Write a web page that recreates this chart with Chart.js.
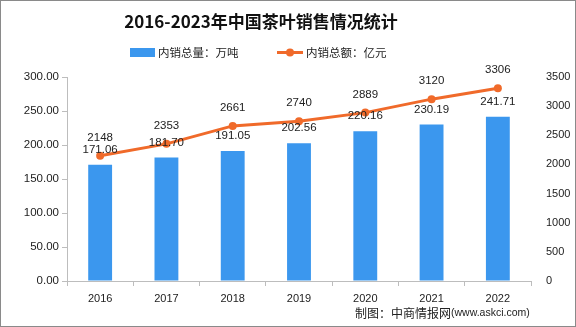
<!DOCTYPE html>
<html>
<head>
<meta charset="utf-8">
<script src="https://cdn.jsdelivr.net/npm/chart.js@4/dist/chart.umd.min.js"></script>
<style>
  html, body { margin: 0; padding: 0; background: #fff; }
  #wrap { width: 576px; height: 327px; position: relative; }
</style>
</head>
<body>
<div id="wrap"><canvas id="tea-chart" width="576" height="327"></canvas></div>
<script>
const years = ['2016', '2017', '2018', '2019', '2020', '2021', '2022'];
const salesVolume = [171.06, 181.70, 191.05, 202.56, 220.16, 230.19, 241.71];   // 万吨
const salesValue = [2148, 2353, 2661, 2740, 2889, 3120, 3306];                  // 亿元
const titleText = '2016-2023年中国茶叶销售情况统计';
const volumeLabel = '内销总量：万吨';
const valueLabel = '内销总额：亿元';

const barColor = '#3b97ee';
const lineColor = '#f06a2a';
const axisColor = '#bdbdbd';
const textColor = '#222';

// draws title, legend, value labels, footer and frame
const decorPlugin = {
    id: 'decor',
    beforeDraw(chart) {
        const ctx = chart.ctx;
        ctx.save();
        ctx.fillStyle = '#fff';
        ctx.fillRect(0, 0, chart.width, chart.height);
        ctx.restore();
    },
    afterDatasetsDraw(chart) {
        const ctx = chart.ctx;
        ctx.save();
        ctx.fillStyle = textColor;
        ctx.textAlign = 'center';
        ctx.textBaseline = 'middle';
        ctx.font = '11.5px "Liberation Sans", Arial, sans-serif';
        chart.getDatasetMeta(0).data.forEach((el, i) => {
            ctx.fillText(salesVolume[i].toFixed(2), el.x, el.y - 15);
        });
        chart.getDatasetMeta(1).data.forEach((el, i) => {
            ctx.fillText(String(salesValue[i]), el.x, el.y - 18);
        });
        ctx.restore();
    },
    afterDraw(chart) {
        const ctx = chart.ctx;
        ctx.save();
        ctx.fillStyle = '#111';
        ctx.textBaseline = 'middle';
        ctx.textAlign = 'center';
        ctx.font = 'bold 17px "Noto Sans CJK SC", sans-serif';
        ctx.fillText(titleText, 261, 22);

        // legend
        ctx.textAlign = 'left';
        ctx.font = '11.5px "Noto Sans CJK SC", sans-serif';
        ctx.fillStyle = barColor;
        ctx.fillRect(130, 48, 25, 9);
        ctx.fillStyle = textColor;
        ctx.fillText(volumeLabel, 158, 53);

        ctx.strokeStyle = lineColor;
        ctx.lineWidth = 3;
        ctx.beginPath();
        ctx.moveTo(277, 52.5);
        ctx.lineTo(303, 52.5);
        ctx.stroke();
        ctx.fillStyle = lineColor;
        ctx.beginPath();
        ctx.arc(290, 52.5, 4, 0, Math.PI * 2);
        ctx.fill();
        ctx.fillStyle = textColor;
        ctx.fillText(valueLabel, 306, 53);

        // footer
        ctx.font = '12px "Noto Sans CJK SC", sans-serif';
        ctx.fillText('制图：中商情报网', 355, 313);
        const w = ctx.measureText('制图：中商情报网').width;
        ctx.font = '10.5px "Liberation Sans", Arial, sans-serif';
        ctx.fillText('(www.askci.com)', 355 + w, 313);

        // frame
        ctx.strokeStyle = '#8a8a8a';
        ctx.lineWidth = 1;
        ctx.strokeRect(0.5, 0.5, chart.width - 1, chart.height - 1);
        ctx.restore();
    }
};

const ctx = document.getElementById('tea-chart').getContext('2d');
const chart = new Chart(ctx, {
    type: 'bar',
    data: {
        labels: years,
        datasets: [{
            type: 'bar',
            label: volumeLabel,
            data: salesVolume,
            backgroundColor: barColor,
            yAxisID: 'y',
            categoryPercentage: 1,
            barPercentage: 0.36,
            order: 1
        }, {
            type: 'line',
            label: valueLabel,
            data: salesValue,
            borderColor: lineColor,
            backgroundColor: lineColor,
            borderWidth: 3,
            pointRadius: 4,
            pointBackgroundColor: lineColor,
            pointBorderWidth: 0,
            tension: 0,
            yAxisID: 'y1',
            order: 0
        }]
    },
    options: {
        responsive: false,
        animation: false,
        layout: { padding: { top: 77, left: 0, right: 0, bottom: 0 } },
        plugins: {
            legend: { display: false },
            title: { display: false },
            tooltip: { enabled: false }
        },
        scales: {
            x: {
                grid: { display: true, drawOnChartArea: false, offset: true, tickLength: 5, color: axisColor },
                border: { color: axisColor },
                ticks: { color: textColor, padding: 6, font: { family: '"Liberation Sans", Arial, sans-serif', size: 11 } },
                afterFit(scale) { scale.height = 46; }
            },
            y: {
                position: 'left',
                min: 0,
                max: 300,
                grid: { display: true, drawOnChartArea: false, tickLength: 5, color: axisColor },
                border: { color: axisColor },
                ticks: {
                    stepSize: 50,
                    color: textColor,
                    padding: 3,
                    font: { family: '"Liberation Sans", Arial, sans-serif', size: 11.5 },
                    callback: v => v.toFixed(2)
                },
                afterFit(scale) { scale.width = 67; }
            },
            y1: {
                position: 'right',
                min: 0,
                max: 3500,
                grid: { display: false },
                border: { display: false },
                ticks: {
                    stepSize: 500,
                    color: textColor,
                    padding: 7,
                    font: { family: '"Liberation Sans", Arial, sans-serif', size: 11 },
                    callback: v => String(v)
                },
                afterFit(scale) { scale.width = 45; }
            }
        }
    },
    plugins: [decorPlugin]
});
</script>
</body>
</html>
